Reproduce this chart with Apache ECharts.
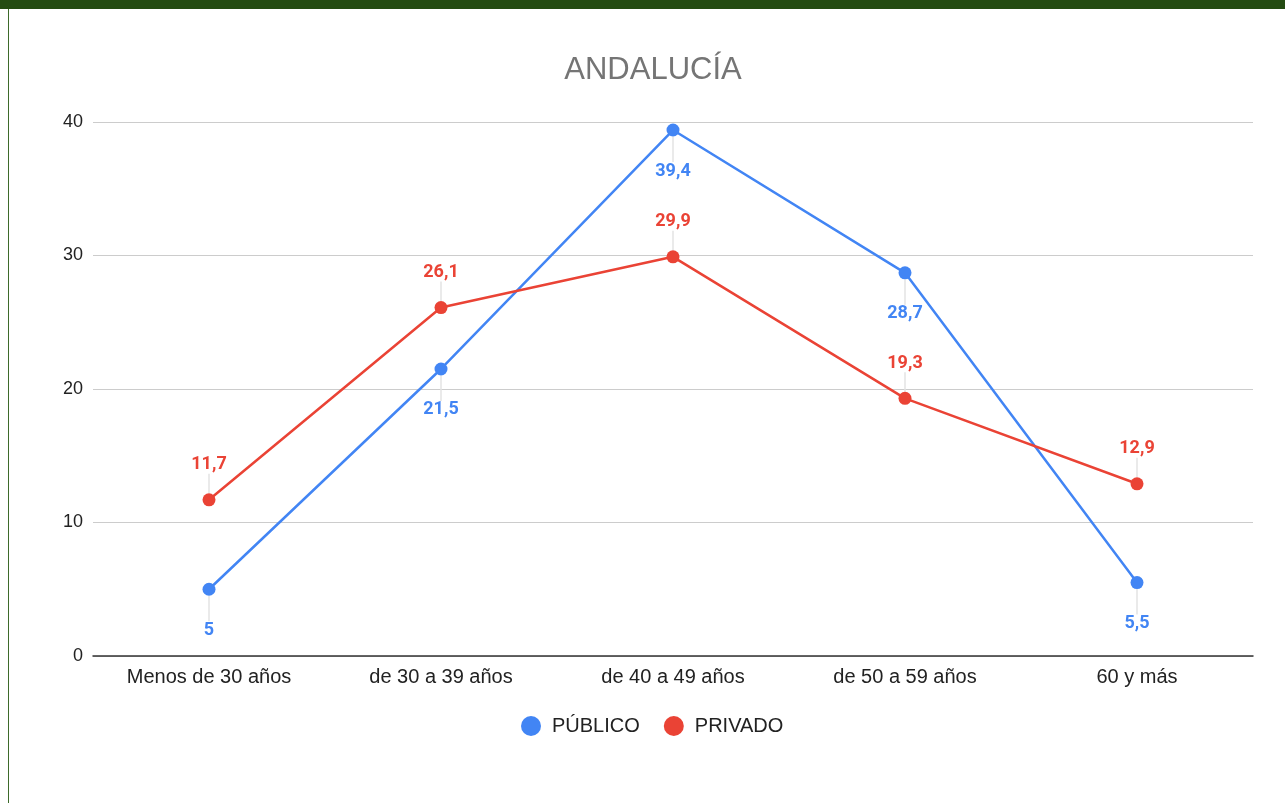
<!DOCTYPE html>
<html><head><meta charset="utf-8">
<script src="https://cdn.jsdelivr.net/npm/echarts@6/dist/echarts.min.js"></script>
<style>
html,body{margin:0;padding:0;background:#fff;}
#topbar{position:absolute;left:0;top:0;width:1285px;height:9px;background:#244b12;}
#leftbar{position:absolute;left:8px;top:9px;width:1px;height:794px;background:#3d6a2a;}
#main{position:absolute;left:0;top:0;width:1285px;height:803px;}
</style></head>
<body>
<div id="main"></div>
<div id="topbar"></div><div id="leftbar"></div>
<script>
const categories = ['Menos de 30 años','de 30 a 39 años','de 40 a 49 años','de 50 a 59 años','60 y más'];
const publico = [5, 21.5, 39.4, 28.7, 5.5];
const privado = [11.7, 26.1, 29.9, 19.3, 12.9];
const yTicks = [0, 10, 20, 30, 40];

const chart = echarts.init(document.getElementById('main'));
const fmt = p => String(p.value).replace('.', ',');
function mk(name, data, color, dy){
  return {
    name, type:'line', data, color,
    symbol:'circle', symbolSize:13,
    lineStyle:{width:2.5, color},
    itemStyle:{color},
    label:{show:true, position:'inside', padding:[6,0,6,0],
      color, fontFamily:'Roboto', fontWeight:'bold', fontSize:18, formatter: fmt},
    labelLayout:{dy: dy},
    labelLine:{show:true, lineStyle:{color:'#e3e3e3', width:1.5}},
    emphasis:{disabled:true}
  };
}
chart.setOption({
  animation:false,
  title:{text:'ANDALUCÍA', left:648, top:50, textAlign:'center',
    textStyle:{fontFamily:'Liberation Sans', fontWeight:'normal', fontSize:31, color:'#757575'}},
  grid:{left:93, right:32, top:122, bottom:147},
  legend:{left:516, top:711, itemWidth:20, itemHeight:20, itemGap:24, icon:'circle',
    textStyle:{fontFamily:'Liberation Sans', fontSize:20, color:'#222', padding:[0,0,0,6]},
    data:['PÚBLICO','PRIVADO']},
  xAxis:{type:'category', data:categories, boundaryGap:true,
    axisLine:{lineStyle:{color:'#333', width:1.5}}, axisTick:{show:false},
    axisLabel:{fontFamily:'Liberation Sans', fontSize:20, color:'#222', margin:11}},
  yAxis:{type:'value', min:yTicks[0], max:yTicks[yTicks.length-1], interval:10,
    axisLabel:{fontFamily:'Liberation Sans', fontSize:18, color:'#222', margin:10},
    splitLine:{lineStyle:{color:'#cccccc', width:1}}},
  series:[mk('PÚBLICO', publico, '#4285F4', 41), mk('PRIVADO', privado, '#EA4335', -35)]
});
</script>
</body></html>
